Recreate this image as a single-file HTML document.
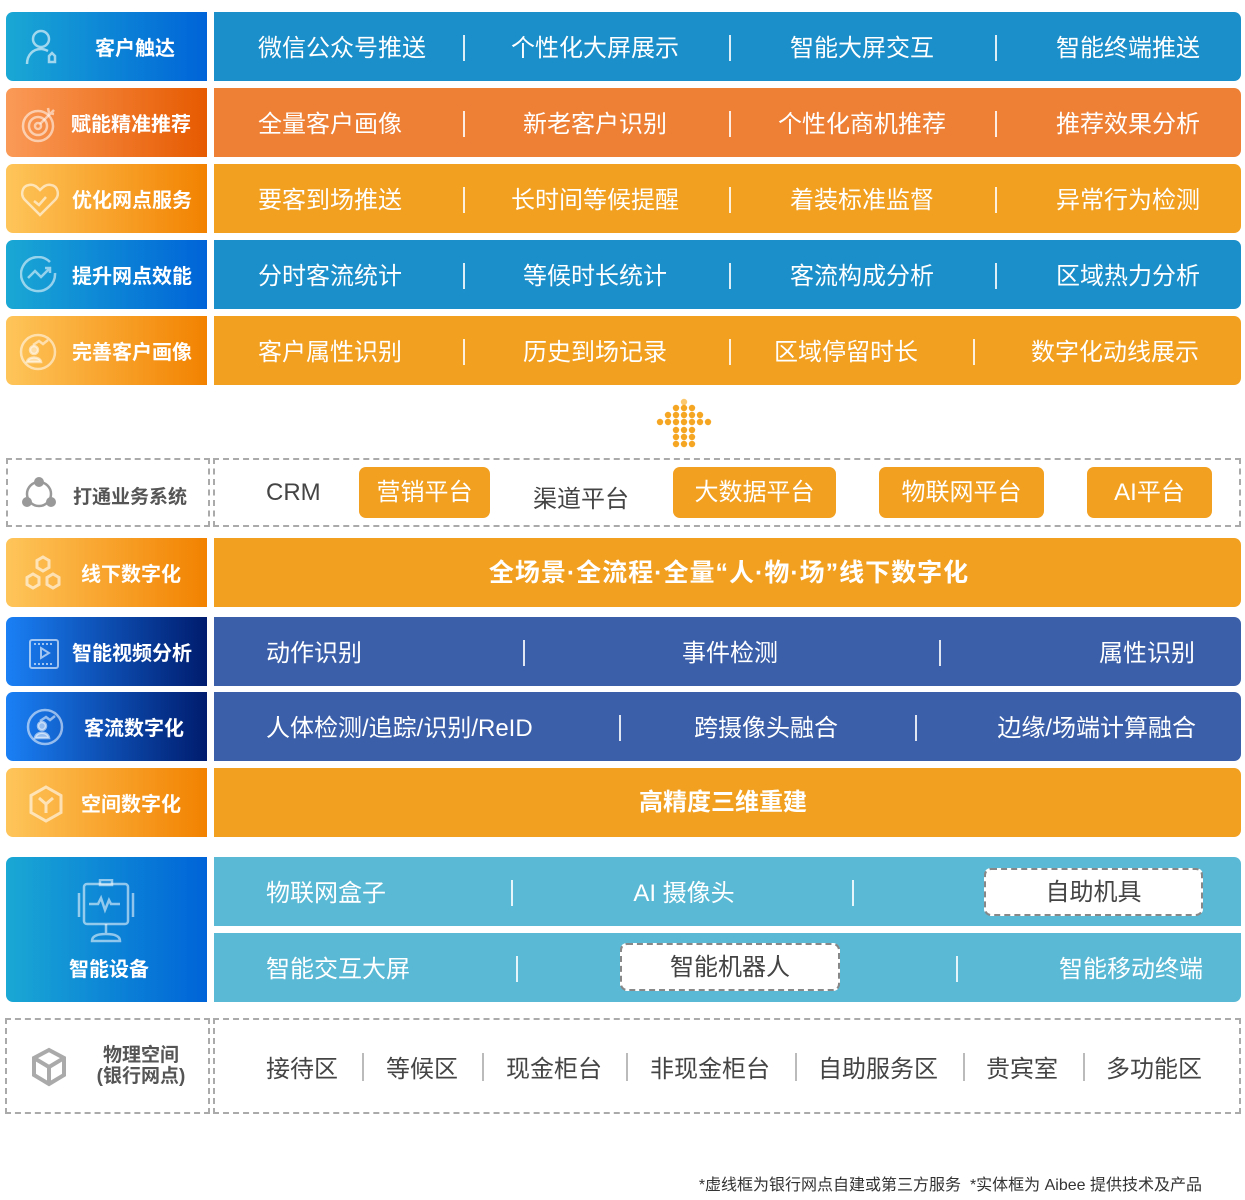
<!DOCTYPE html>
<html><head><meta charset="utf-8">
<style>
*{margin:0;padding:0;box-sizing:border-box}
body{width:1245px;height:1200px;background:#fff;position:relative;overflow:hidden;font-family:"Liberation Sans","Noto Sans CJK SC",sans-serif}
.b{position:absolute;border-radius:7px}
.L{left:6px;width:201px}
.R{left:214px;width:1027px;border-radius:0 7px 7px 0}
.L{border-radius:7px 0 0 7px}
.t{position:absolute;color:#fff;font-size:24px;line-height:70px;white-space:nowrap;top:2px}
.c{transform:translateX(-50%)}
.r{transform:translateX(-100%)}
.s{position:absolute;width:1.5px;background:rgba(255,255,255,.85);top:23px;height:26px}
.lab{position:absolute;color:#fff;font-size:20px;font-weight:bold;line-height:70px;top:2px;white-space:nowrap}
.ic{position:absolute}
.blue{background:linear-gradient(90deg,#1aa8d4,#0064d8)}
.orng{background:linear-gradient(90deg,#fa9a58,#e65a00)}
.gold{background:linear-gradient(90deg,#fec55a,#f28200)}
.navy{background:linear-gradient(90deg,#1a80f5,#001c6e)}
.rb{background:#1b8fc9}.ro{background:#ee8036}.rg{background:#f2a020}.rn{background:#3b5fa9}.rc{background:#5ab9d5}
.dash{position:absolute;border:2px dashed #aaa}
.pill{position:absolute;background:#f2a020;border-radius:7px;color:#fff;font-size:24px;text-align:center;line-height:51px;top:467px;height:51px}
.dk{color:#444}
.gs{position:absolute;width:1.5px;background:#bbb;top:1053px;height:28px}
.ph{position:absolute;top:1049px;font-size:24px;color:#444}
</style></head><body>

<div class="b L blue" style="top:12px;height:69px">
<svg class="ic" style="left:18px;top:16px" width="40" height="40" viewBox="0 0 40 40" fill="none" stroke="rgba(255,255,255,.6)" stroke-width="2.5"><circle cx="17" cy="11" r="8"/><path d="M3 36c0-9 6-15 14-15 3 0 5 1 7 2"/><path d="M25 28l3-3 3 3v6h-6z"/></svg>
<div class="lab" style="left:89px">客户触达</div></div>
<div class="b R rb" style="top:12px;height:69px">
<div class="t c" style="left:128px">微信公众号推送</div><div class="s" style="left:249px"></div>
<div class="t c" style="left:381px">个性化大屏展示</div><div class="s" style="left:515px"></div>
<div class="t c" style="left:648px">智能大屏交互</div><div class="s" style="left:781px"></div>
<div class="t c" style="left:914px">智能终端推送</div></div>

<div class="b L orng" style="top:88px;height:69px">
<svg class="ic" style="left:14px;top:16px" width="40" height="40" viewBox="0 0 40 40" fill="none" stroke="rgba(255,255,255,.55)" stroke-width="2.5"><circle cx="18" cy="22" r="15"/><circle cx="18" cy="22" r="9"/><circle cx="18" cy="22" r="3"/><path d="M20 20l14-14M28 4l1 5 5 1"/></svg>
<div class="lab" style="left:65px">赋能精准推荐</div></div>
<div class="b R ro" style="top:88px;height:69px">
<div class="t c" style="left:116px">全量客户画像</div><div class="s" style="left:249px"></div>
<div class="t c" style="left:381px">新老客户识别</div><div class="s" style="left:515px"></div>
<div class="t c" style="left:648px">个性化商机推荐</div><div class="s" style="left:781px"></div>
<div class="t c" style="left:914px">推荐效果分析</div></div>

<div class="b L gold" style="top:164px;height:69px">
<svg class="ic" style="left:14px;top:17px" width="40" height="38" viewBox="0 0 40 38" fill="none" stroke="rgba(255,255,255,.6)" stroke-width="2.5"><path d="M20 34L5 19C0 14 2 5 9 4c5-1 8 2 11 5 3-3 6-6 11-5 7 1 9 10 4 15z"/><path d="M14 20l5 4 7-8"/></svg>
<div class="lab" style="left:66px">优化网点服务</div></div>
<div class="b R rg" style="top:164px;height:69px">
<div class="t c" style="left:116px">要客到场推送</div><div class="s" style="left:249px"></div>
<div class="t c" style="left:381px">长时间等候提醒</div><div class="s" style="left:515px"></div>
<div class="t c" style="left:648px">着装标准监督</div><div class="s" style="left:781px"></div>
<div class="t c" style="left:914px">异常行为检测</div></div>

<div class="b L blue" style="top:240px;height:69px">
<svg class="ic" style="left:14px;top:16px" width="38" height="38" viewBox="0 0 38 38" fill="none" stroke="rgba(255,255,255,.55)" stroke-width="2.5"><path d="M30 6A17 17 0 1 0 35 17"/><path d="M8 22l7-7 6 6 9-9M25 12h5v5"/></svg>
<div class="lab" style="left:66px">提升网点效能</div></div>
<div class="b R rb" style="top:240px;height:69px">
<div class="t c" style="left:116px">分时客流统计</div><div class="s" style="left:249px"></div>
<div class="t c" style="left:381px">等候时长统计</div><div class="s" style="left:515px"></div>
<div class="t c" style="left:648px">客流构成分析</div><div class="s" style="left:781px"></div>
<div class="t c" style="left:914px">区域热力分析</div></div>

<div class="b L gold" style="top:316px;height:69px">
<svg class="ic" style="left:13px;top:17px" width="38" height="38" viewBox="0 0 38 38" fill="none" stroke="rgba(255,255,255,.55)" stroke-width="2.5"><circle cx="19" cy="19" r="17"/><circle cx="15" cy="17" r="4" fill="rgba(255,255,255,.5)"/><path d="M8 29c1-6 13-6 14 0z" fill="rgba(255,255,255,.5)"/><path d="M14 12l6-4 4 3 5-4"/></svg>
<div class="lab" style="left:66px">完善客户画像</div></div>
<div class="b R rg" style="top:316px;height:69px">
<div class="t c" style="left:116px">客户属性识别</div><div class="s" style="left:249px"></div>
<div class="t c" style="left:381px">历史到场记录</div><div class="s" style="left:515px"></div>
<div class="t c" style="left:632px">区域停留时长</div><div class="s" style="left:759px"></div>
<div class="t c" style="left:901px">数字化动线展示</div></div>

<svg style="position:absolute;left:650px;top:396px" width="70" height="56" fill="#f5a623">
<circle cx="34" cy="6" r="3.2" fill="#fbc870"/>
<circle cx="26" cy="12" r="3.2"/><circle cx="34" cy="12" r="3.2"/><circle cx="42" cy="12" r="3.2"/>
<circle cx="18" cy="19" r="3.2"/><circle cx="26" cy="19" r="3.2"/><circle cx="34" cy="19" r="3.2"/><circle cx="42" cy="19" r="3.2"/><circle cx="50" cy="19" r="3.2"/>
<circle cx="10" cy="26" r="3.2"/><circle cx="18" cy="26" r="3.2"/><circle cx="26" cy="26" r="3.2"/><circle cx="34" cy="26" r="3.2"/><circle cx="42" cy="26" r="3.2"/><circle cx="50" cy="26" r="3.2"/><circle cx="58" cy="26" r="3.2"/>
<circle cx="26" cy="34" r="3.2"/><circle cx="34" cy="34" r="3.2"/><circle cx="42" cy="34" r="3.2"/>
<circle cx="26" cy="41" r="3.2"/><circle cx="34" cy="41" r="3.2"/><circle cx="42" cy="41" r="3.2"/>
<circle cx="26" cy="48" r="3.2"/><circle cx="34" cy="48" r="3.2"/><circle cx="42" cy="48" r="3.2"/>
</svg>

<div class="dash" style="left:6px;top:458px;width:204px;height:69px"></div>
<div class="dash" style="left:213px;top:458px;width:1028px;height:69px"></div>
<svg class="ic" style="left:20px;top:475px" width="38" height="38" viewBox="0 0 38 38" fill="none"><circle cx="19" cy="19" r="12" stroke="#999" stroke-width="2.5"/><circle cx="19" cy="7" r="5" fill="#999"/><circle cx="7" cy="27" r="5" fill="#999"/><circle cx="31" cy="27" r="5" fill="#999"/></svg>
<div style="position:absolute;left:73px;top:482px;font-size:19px;font-weight:bold;color:#555">打通业务系统</div>
<div class="dk" style="position:absolute;left:266px;top:479px;font-size:24px">CRM</div>
<div class="pill" style="left:359px;width:131px">营销平台</div>
<div class="dk" style="position:absolute;left:533px;top:479px;font-size:24px">渠道平台</div>
<div class="pill" style="left:673px;width:163px">大数据平台</div>
<div class="pill" style="left:879px;width:165px">物联网平台</div>
<div class="pill" style="left:1087px;width:125px">AI平台</div>

<div class="b L gold" style="top:538px;height:69px">
<svg class="ic" style="left:16px;top:16px" width="42" height="40" viewBox="0 0 42 40" fill="none" stroke="rgba(255,255,255,.6)" stroke-width="3"><path d="M21 3l6 3.5v7L21 17l-6-3.5v-7z"/><path d="M11 20l6 3.5v7L11 34l-6-3.5v-7z"/><path d="M31 20l6 3.5v7L31 34l-6-3.5v-7z"/></svg>
<div class="lab" style="left:75px">线下数字化</div></div>
<div class="b R rg" style="top:538px;height:69px"><div class="t c" style="left:515px;font-weight:bold;font-size:25px;letter-spacing:1px;top:0">全场景·全流程·全量“人·物·场”线下数字化</div></div>

<div class="b L navy" style="top:617px;height:69px">
<svg class="ic" style="left:22px;top:21px" width="32" height="32" viewBox="0 0 32 32" fill="none" stroke="rgba(255,255,255,.6)" stroke-width="2"><rect x="2" y="2" width="28" height="28" rx="2"/><path d="M13 10v10l8-5z"/><path d="M6 6h20M6 26h20" stroke-dasharray="2 2"/></svg>
<div class="lab" style="left:66px">智能视频分析</div></div>
<div class="b R rn" style="top:617px;height:69px">
<div class="t" style="left:52px">动作识别</div><div class="s" style="left:309px"></div>
<div class="t c" style="left:516px">事件检测</div><div class="s" style="left:725px"></div>
<div class="t r" style="left:981px">属性识别</div></div>

<div class="b L navy" style="top:692px;height:69px">
<svg class="ic" style="left:20px;top:16px" width="38" height="38" viewBox="0 0 38 38" fill="none" stroke="rgba(255,255,255,.55)" stroke-width="2.5"><circle cx="19" cy="19" r="17"/><circle cx="16" cy="18" r="4" fill="rgba(255,255,255,.55)"/><path d="M9 30c1-7 13-7 14 0z" fill="rgba(255,255,255,.55)"/><path d="M14 13l6-4 4 3 5-4"/></svg>
<div class="lab" style="left:78px">客流数字化</div></div>
<div class="b R rn" style="top:692px;height:69px">
<div class="t" style="left:52px">人体检测/追踪/识别/ReID</div><div class="s" style="left:405px"></div>
<div class="t c" style="left:552px">跨摄像头融合</div><div class="s" style="left:701px"></div>
<div class="t r" style="left:982px">边缘/场端计算融合</div></div>

<div class="b L gold" style="top:768px;height:69px">
<svg class="ic" style="left:22px;top:16px" width="36" height="40" viewBox="0 0 36 40" fill="none" stroke="rgba(255,255,255,.6)" stroke-width="3"><path d="M18 3l15 8.5v17L18 37 3 28.5v-17z"/><path d="M11 14l7 6 7-6M18 20v9"/></svg>
<div class="lab" style="left:75px">空间数字化</div></div>
<div class="b R rg" style="top:768px;height:69px"><div class="t c" style="left:509px;font-weight:bold;top:0">高精度三维重建</div></div>

<div class="b L blue" style="top:857px;height:145px">
<svg class="ic" style="left:70px;top:22px" width="66" height="66" viewBox="0 0 66 66" fill="none" stroke="rgba(255,255,255,.55)" stroke-width="2.5"><rect x="8" y="5" width="44" height="40" rx="3"/><rect x="24" y="1" width="12" height="5"/><path d="M3 14v24M57 14v24"/><path d="M13 25h9l3-6 4 12 4-10 2 4h9"/><path d="M30 45v10M16 62c0-4 4-7 14-7s14 3 14 7z"/></svg>
<div class="lab" style="left:63px;top:78px">智能设备</div></div>
<div class="b rc" style="left:214px;width:1027px;top:857px;height:69px;border-radius:0 7px 0 0">
<div class="t" style="left:52px">物联网盒子</div><div class="s" style="left:297px"></div>
<div class="t c" style="left:470px">AI 摄像头</div><div class="s" style="left:638px"></div></div>
<div class="b rc" style="left:214px;width:1027px;top:933px;height:69px;border-radius:0 0 7px 0">
<div class="t" style="left:52px">智能交互大屏</div><div class="s" style="left:302px"></div>
<div class="s" style="left:742px"></div>
<div class="t r" style="left:989px">智能移动终端</div></div>
<div style="position:absolute;left:984px;top:868px;width:219px;height:48px;background:#fff;border:2px dashed #888;border-radius:7px;color:#444;font-size:24px;text-align:center;line-height:46px">自助机具</div>
<div style="position:absolute;left:620px;top:943px;width:220px;height:48px;background:#fff;border:2px dashed #888;border-radius:7px;color:#444;font-size:24px;text-align:center;line-height:46px">智能机器人</div>

<div class="dash" style="left:5px;top:1018px;width:205px;height:96px"></div>
<div class="dash" style="left:213px;top:1018px;width:1028px;height:96px"></div>
<svg class="ic" style="left:30px;top:1047px" width="38" height="40" viewBox="0 0 38 40" fill="none" stroke="#aaa" stroke-width="4"><path d="M19 3l15 8v17l-15 9-15-9V11z"/><path d="M4 11l15 9 15-9M19 20v17"/></svg>
<div style="position:absolute;left:90px;top:1045px;width:102px;text-align:center;font-size:19px;font-weight:bold;color:#555;line-height:21px">物理空间<br>(银行网点)</div>
<div class="ph" style="left:266px">接待区</div><div class="gs" style="left:362px"></div>
<div class="ph" style="left:386px">等候区</div><div class="gs" style="left:482px"></div>
<div class="ph" style="left:506px">现金柜台</div><div class="gs" style="left:626px"></div>
<div class="ph" style="left:650px">非现金柜台</div><div class="gs" style="left:795px"></div>
<div class="ph" style="left:818px">自助服务区</div><div class="gs" style="left:963px"></div>
<div class="ph" style="left:986px">贵宾室</div><div class="gs" style="left:1083px"></div>
<div class="ph" style="left:1106px">多功能区</div>

<div style="position:absolute;right:43px;top:1171px;font-size:16px;color:#333;white-space:nowrap">*虚线框为银行网点自建或第三方服务&nbsp;&nbsp;*实体框为 Aibee 提供技术及产品</div>
</body></html>
